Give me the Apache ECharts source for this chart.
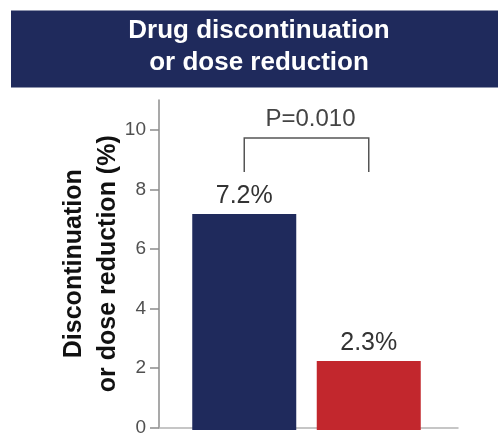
<!DOCTYPE html>
<html>
<head>
<meta charset="utf-8">
<script src="https://cdn.jsdelivr.net/npm/echarts@6/dist/echarts.min.js"></script>
<style>
  html, body { margin: 0; padding: 0; background: #ffffff; }
  #chart { width: 498px; height: 437px; }
</style>
</head>
<body>
<div id="chart"></div>
<script>
// Values
const categories = ['Arm 1', 'Arm 2'];
const values = [7.2, 2.3];
const yTicks = [0, 2, 4, 6, 8, 10];
const comparison = { from: 0, to: 1, top: 9.73, foot: 8.6, text: 'P=0.010' };
const titleText = 'Drug discontinuation\nor dose reduction';
const yName = 'Discontinuation\nor dose reduction (%)';

// Styling
const NAVY = '#1f2a5c';
const RED = '#c2272d';
const barColors = [NAVY, RED];
const FONT = '"Liberation Sans", Arial, Helvetica, sans-serif';

const chart = echarts.init(document.getElementById('chart'), null, { renderer: 'canvas' });

chart.setOption({
  animation: false,
  backgroundColor: '#ffffff',
  textStyle: { fontFamily: FONT },
  graphic: [
    {
      type: 'rect',
      z: 0,
      shape: { x: 11, y: 10.5, width: 490, height: 77 },
      style: { fill: NAVY }
    },
    {
      type: 'text',
      z: 1,
      x: 259,
      y: 46.5,
      style: {
        text: titleText,
        align: 'center',
        verticalAlign: 'middle',
        fontFamily: FONT,
        fontWeight: 'bold',
        fontSize: 26,
        lineHeight: 32,
        fill: '#ffffff'
      }
    }
  ],
  grid: [
    // axes frame
    { left: 159, right: 40, top: 100, bottom: 7 },
    // bar area
    { left: 182, right: 67, top: 100, bottom: 7 }
  ],
  xAxis: [
    {
      gridIndex: 0,
      type: 'value',
      min: 0,
      max: 1,
      axisLine: { show: true, lineStyle: { color: '#b4b4b4', width: 1.5 } },
      axisTick: { show: false },
      axisLabel: { show: false },
      splitLine: { show: false }
    },
    {
      gridIndex: 1,
      type: 'category',
      data: categories,
      show: false
    }
  ],
  yAxis: [
    {
      gridIndex: 0,
      type: 'value',
      min: 0,
      max: 11,
      axisLine: { show: true, lineStyle: { color: '#8c8c8c', width: 1.5 } },
      axisTick: {
        show: true,
        length: 9,
        customValues: yTicks,
        lineStyle: { color: '#8c8c8c', width: 1.5 }
      },
      axisLabel: {
        customValues: yTicks,
        margin: 13,
        fontSize: 19,
        color: '#505050',
        fontFamily: FONT
      },
      splitLine: { show: false },
      name: yName,
      nameLocation: 'middle',
      nameRotate: 90,
      nameGap: 34,
      nameMoveOverlap: false,
      nameTextStyle: {
        fontFamily: FONT,
        fontSize: 25,
        fontWeight: 'bold',
        color: '#111111',
        lineHeight: 34,
        align: 'center'
      }
    },
    {
      gridIndex: 1,
      type: 'value',
      min: 0,
      max: 11,
      show: false
    }
  ],
  series: [
    {
      type: 'bar',
      xAxisIndex: 1,
      yAxisIndex: 1,
      barWidth: 104,
      data: values.map((v, i) => ({ value: v, itemStyle: { color: barColors[i] } })),
      label: {
        show: true,
        position: 'top',
        distance: 5,
        formatter: '{c}%',
        fontFamily: FONT,
        fontSize: 25,
        color: '#333333'
      }
    },
    {
      // significance bracket between the two bars
      type: 'custom',
      xAxisIndex: 1,
      yAxisIndex: 1,
      silent: true,
      z: 5,
      encode: { x: [0, 1], y: [2, 3] },
      data: [[comparison.from, comparison.to, comparison.top, comparison.foot]],
      renderItem: function (params, api) {
        const l0 = api.coord([api.value(0), api.value(3)]);
        const l1 = api.coord([api.value(0), api.value(2)]);
        const r1 = api.coord([api.value(1), api.value(2)]);
        const r0 = api.coord([api.value(1), api.value(3)]);
        return {
          type: 'group',
          children: [
            {
              type: 'polyline',
              shape: { points: [l0, l1, r1, r0] },
              style: { stroke: '#555555', lineWidth: 1.5, fill: null }
            },
            {
              type: 'text',
              x: (l1[0] + r1[0]) / 2 + 4,
              y: l1[1] - 7,
              style: {
                text: comparison.text,
                align: 'center',
                verticalAlign: 'bottom',
                fontFamily: FONT,
                fontSize: 24,
                fill: '#444444'
              }
            }
          ]
        };
      }
    }
  ]
});
</script>
</body>
</html>
